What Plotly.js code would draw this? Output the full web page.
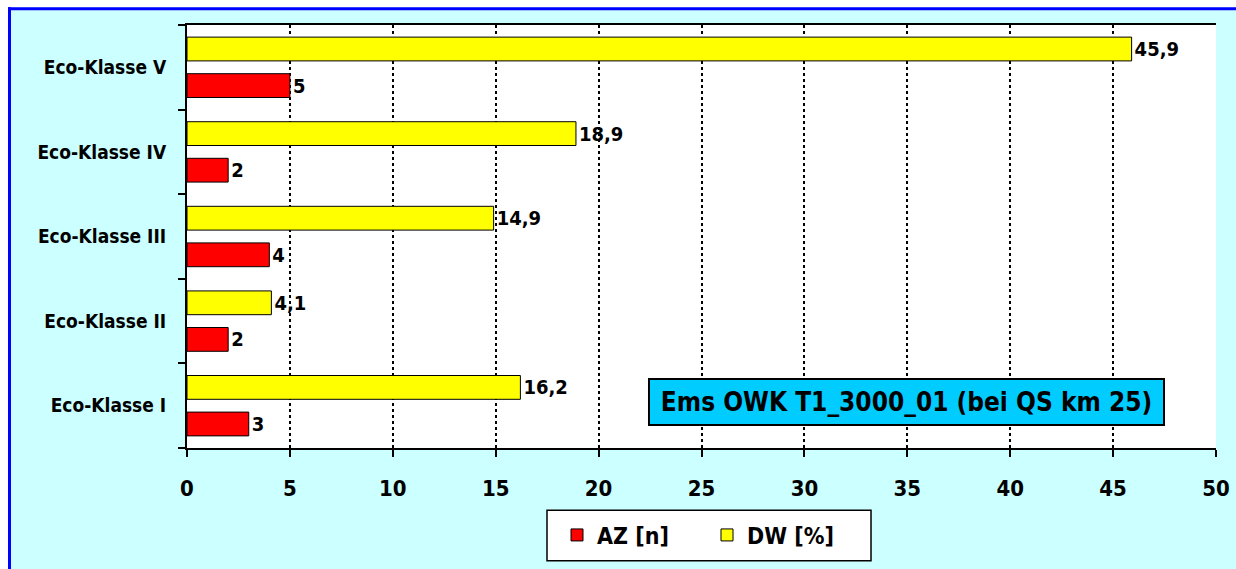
<!DOCTYPE html>
<html>
<head>
<meta charset="utf-8">
<script src="https://cdn.plot.ly/plotly-3.0.1.min.js"></script>
<style>html,body{margin:0;padding:0;background:#fff;}#chart{width:1236px;height:569px;}</style>
</head>
<body>
<div id="chart"></div>
<script>
const categories = ["Eco-Klasse I", "Eco-Klasse II", "Eco-Klasse III", "Eco-Klasse IV", "Eco-Klasse V"];
const azValues = [3, 2, 4, 2, 5];
const dwValues = [16.2, 4.1, 14.9, 18.9, 45.9];
const xTicks = [0, 5, 10, 15, 20, 25, 30, 35, 40, 45, 50];
const boxText = "Ems OWK T1_3000_01 (bei QS km 25)";

const FONT = "'DejaVu Sans Condensed', 'DejaVu Sans', Verdana, sans-serif";
const fmt = v => String(v).replace('.', ',');

const W = 1236, H = 569, L = 187, R = 20, T = 25, B = 116;
const pw = W - L - R, ph = H - T - B;
const px = x => (x - L) / pw;
const py = y => (H - B - y) / ph;

const traces = [
  {
    type: 'bar', orientation: 'h', name: 'AZ [n]',
    y: categories, x: azValues,
    text: azValues.map(fmt), textposition: 'outside', cliponaxis: false, constraintext: 'none',
    textfont: {family: FONT, size: 20, color: '#000', weight: 'bold'},
    marker: {color: '#FF0000', line: {color: '#000', width: 1}},
    hoverinfo: 'x+y'
  },
  {
    type: 'bar', orientation: 'h', name: 'DW [%]',
    y: categories, x: dwValues,
    text: dwValues.map(fmt), textposition: 'outside', cliponaxis: false, constraintext: 'none',
    textfont: {family: FONT, size: 20, color: '#000', weight: 'bold'},
    marker: {color: '#FFFF00', line: {color: '#000', width: 1}},
    hoverinfo: 'x+y'
  }
];

const layout = {
  width: W, height: H,
  margin: {l: L, r: R, t: T, b: B, pad: 0},
  paper_bgcolor: '#CCFFFF',
  plot_bgcolor: '#FFFFFF',
  separators: ',.',
  barmode: 'group',
  bargap: 0.135,
  bargroupgap: 0.35,
  font: {family: FONT, color: '#000', weight: 'bold'},
  xaxis: {
    range: [0, 50], tickvals: xTicks, ticktext: xTicks.map(String),
    showgrid: true, gridcolor: '#000', gridwidth: 2, griddash: 'dot',
    zeroline: false,
    showline: true, linecolor: '#000', linewidth: 2, mirror: true,
    ticks: 'outside', ticklen: 7, tickwidth: 2, tickcolor: '#000',
    ticklabelstandoff: 13,
    tickfont: {family: FONT, size: 22, color: '#000', weight: 'bold'},
    fixedrange: true
  },
  yaxis: {
    type: 'category', categoryorder: 'array', categoryarray: categories,
    range: [-0.5, 4.5],
    showgrid: false, zeroline: false,
    showline: true, linecolor: '#000', linewidth: 2,
    ticks: 'outside', tickson: 'boundaries', ticklen: 7, tickwidth: 2, tickcolor: '#000',
    ticklabelstandoff: 15,
    tickfont: {family: FONT, size: 19, color: '#000', weight: 'bold'},
    fixedrange: true
  },
  showlegend: true,
  legend: {
    orientation: 'h',
    x: px(557), xanchor: 'left',
    y: py(541), yanchor: 'middle',
    bgcolor: 'rgba(0,0,0,0)', borderwidth: 0,
    font: {family: FONT, size: 23, color: '#000', weight: 'bold'},
    entrywidth: 105, itemwidth: 30,
    traceorder: 'normal'
  },
  shapes: [
    {type: 'rect', xref: 'paper', yref: 'paper', x0: px(-5), x1: px(1300), y0: py(-5), y1: py(7), fillcolor: '#FFFFFF', line: {width: 0}, layer: 'below'},
    {type: 'rect', xref: 'paper', yref: 'paper', x0: px(-5), x1: px(8), y0: py(-5), y1: py(600), fillcolor: '#FFFFFF', line: {width: 0}, layer: 'below'},
    {type: 'line', xref: 'paper', yref: 'paper', x0: px(8), x1: px(1300), y0: py(8.5), y1: py(8.5), line: {color: '#0000FF', width: 3}, layer: 'above'},
    {type: 'line', xref: 'paper', yref: 'paper', x0: px(9.5), x1: px(9.5), y0: py(7), y1: py(600), line: {color: '#0000FF', width: 3}, layer: 'above'},
    {type: 'rect', xref: 'paper', yref: 'paper', x0: px(547), x1: px(871), y0: py(567), y1: py(516), fillcolor: '#FFFFFF', line: {color: '#000', width: 1.5}, layer: 'below'}
  ],
  annotations: [
    {
      xref: 'paper', yref: 'paper', x: px(906.5), y: py(406), xanchor: 'center', yanchor: 'middle',
      text: boxText, showarrow: false,
      font: {family: FONT, size: 26, color: '#000', weight: 'bold'},
      bgcolor: '#00CCFF', bordercolor: '#000', borderwidth: 2,
      width: 511, height: 42, align: 'center', valign: 'middle'
    }
  ]
};

Plotly.newPlot('chart', traces, layout, {displayModeBar: false, staticPlot: true});
</script>
</body>
</html>
